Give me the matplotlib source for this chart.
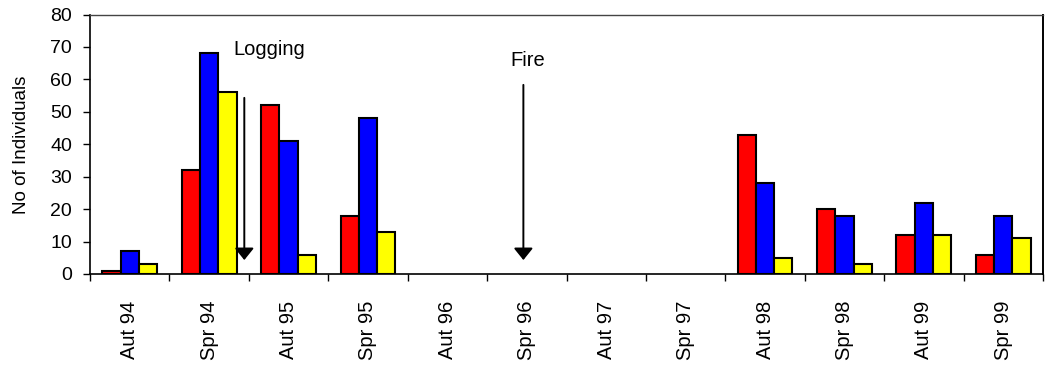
import matplotlib
matplotlib.use("Agg")
import matplotlib.pyplot as plt
import numpy as np

categories = ["Aut 94", "Spr 94", "Aut 95", "Spr 95", "Aut 96", "Spr 96",
              "Aut 97", "Spr 97", "Aut 98", "Spr 98", "Aut 99", "Spr 99"]
red_vals = [1, 32, 52, 18, 0, 0, 0, 0, 43, 20, 12, 6]
blue_vals = [7, 68, 41, 48, 0, 0, 0, 0, 28, 18, 22, 18]
yellow_vals = [3, 56, 6, 13, 0, 0, 0, 0, 5, 3, 12, 11]
y_ticks = [0, 10, 20, 30, 40, 50, 60, 70, 80]

plt.rcParams['font.family'] = ['Liberation Sans', 'DejaVu Sans']

fig = plt.figure(figsize=(10.45, 3.75), dpi=100)
ax = fig.add_axes([90/1045, 101/375, 953/1045, 259.5/375])

x = np.arange(len(categories))
w = 0.23
series = [(red_vals, '#ff0000'), (blue_vals, '#0000ff'), (yellow_vals, '#ffff00')]
for i, (vals, col) in enumerate(series):
    vals = np.array(vals, dtype=float)
    mask = vals > 0
    ax.bar(x[mask] + (i - 1) * w, vals[mask], width=w, color=col,
           edgecolor='black', linewidth=1.5, zorder=3)

ax.set_xlim(-0.5, len(categories) - 0.5)
ax.set_ylim(0, 80)
ax.set_yticks(y_ticks)
ax.set_xticks(x)
ax.set_xticklabels(categories, rotation=90, fontsize=14.5)
ax.set_xticks(np.arange(-0.5, len(categories), 1.0), minor=True)
ax.tick_params(axis='x', which='major', length=0, pad=19)
ax.tick_params(axis='x', which='minor', length=5, width=1, direction='out', color='black')
ax.tick_params(axis='y', which='major', length=4.8, width=1, direction='out', pad=8, labelsize=14)

for s in ['left', 'bottom']:
    ax.spines[s].set_color('black')
    ax.spines[s].set_linewidth(1.2)
ax.spines['top'].set_color('#444444')
ax.spines['top'].set_linewidth(1.0)
ax.spines['right'].set_color('black')
ax.spines['right'].set_linewidth(1.4)

fig.text(21.5/1045, 1 - 145/375, "No of Individuals", rotation=90,
         ha='center', va='center', fontsize=13.5)

arrow_kw = dict(arrowstyle='-|>,head_length=0.36,head_width=0.29', lw=1.4,
                color='black', shrinkA=0, shrinkB=0, mutation_scale=20)
ax.annotate('', xy=(1.443, 4.3), xytext=(1.443, 54.3), arrowprops=arrow_kw, zorder=4)
ax.annotate('', xy=(4.957, 4.3), xytext=(4.957, 58.3), arrowprops=arrow_kw, zorder=4)
ax.text(1.752, 67.6, "Logging", ha='center', va='baseline', fontsize=14.5)
ax.text(5.016, 64.0, "Fire", ha='center', va='baseline', fontsize=14.5)

fig.savefig("out.png", dpi=100)
